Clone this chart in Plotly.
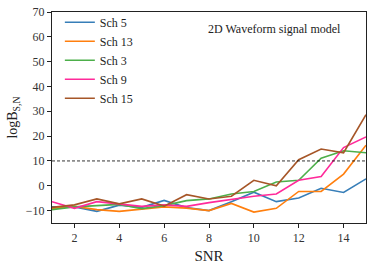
import plotly.graph_objects as go

snr = list(range(1, 16))
sch5 = [-8.5, -8.5, -10.3, -7.8, -8.7, -5.9, -8.8, -10.0, -6.4, -2.6, -6.4, -4.9, -1.0, -2.7, 2.8]
sch13 = [-9.1, -8.3, -9.6, -10.3, -9.4, -8.5, -9.0, -10.0, -7.1, -10.6, -9.1, -2.3, -2.3, 4.7, 16.3]
sch3 = [-9.6, -8.5, -8.0, -7.5, -9.2, -8.0, -6.0, -5.3, -3.3, -2.3, 1.5, 2.2, 11.1, 14.1, 13.3]
sch9 = [-6.4, -9.1, -6.4, -7.4, -8.3, -7.7, -8.3, -6.8, -5.5, -4.2, -3.3, 2.2, 3.7, 15.4, 19.7]
sch15 = [-8.7, -7.7, -5.3, -7.3, -5.3, -8.2, -3.6, -5.3, -4.2, 2.2, 0.0, 10.5, 14.8, 13.3, 28.6]

series = [
    ("Sch 5", sch5, "#377eb8"),
    ("Sch 13", sch13, "#ff7f0e"),
    ("Sch 3", sch3, "#4daf4a"),
    ("Sch 9", sch9, "#ff2a9a"),
    ("Sch 15", sch15, "#a65628"),
]
threshold = 10
x_ticks = [2, 4, 6, 8, 10, 12, 14]
y_ticks = [-10, 0, 10, 20, 30, 40, 50, 60, 70]

font = "Liberation Serif"
fig = go.Figure()
for name, vals, col in series:
    fig.add_trace(go.Scatter(x=snr, y=vals, mode="lines", name=name,
                             line=dict(color=col, width=1.6)))

fig.add_hline(y=threshold, line=dict(color="black", width=0.8, dash="3px,2px"))

fig.add_annotation(text="2D Waveform signal model", x=0.71, y=0.92, xref="paper", yref="paper",
                   xanchor="center", yanchor="middle",
                   showarrow=False, font=dict(family=font, size=12, color="#222"))

axis_common = dict(showline=True, linecolor="#222", linewidth=1, mirror=True,
                   ticks="outside", ticklen=4, tickcolor="#222", showgrid=False, zeroline=False,
                   ticklabeloverflow="allow",
                   tickfont=dict(family=font, size=12, color="#333"))
fig.update_xaxes(range=[1, 15], tickvals=x_ticks, title=dict(text="SNR", font=dict(family=font, size=15, color="#222"), standoff=6), **axis_common)
fig.update_yaxes(range=[-15, 70], tickvals=y_ticks, ticktext=[("−10" if v < 0 else str(v)) for v in y_ticks],
                 title=dict(text="logB<sub>S,N</sub>", font=dict(family=font, size=14, color="#222"), standoff=4), **axis_common)

fig.update_layout(
    width=374, height=267,
    margin=dict(l=52, r=8, t=5, b=40),
    plot_bgcolor="white", paper_bgcolor="white",
    showlegend=True,
    legend=dict(x=0.025, y=1.02, xanchor="left", yanchor="top", bgcolor="rgba(0,0,0,0)",
                font=dict(family=font, size=12, color="#222"), tracegroupgap=0, itemwidth=30),
)
fig.write_html("out.html", config={"displayModeBar": False},
               post_script="document.body.style.margin='0';document.body.style.padding='0';")
